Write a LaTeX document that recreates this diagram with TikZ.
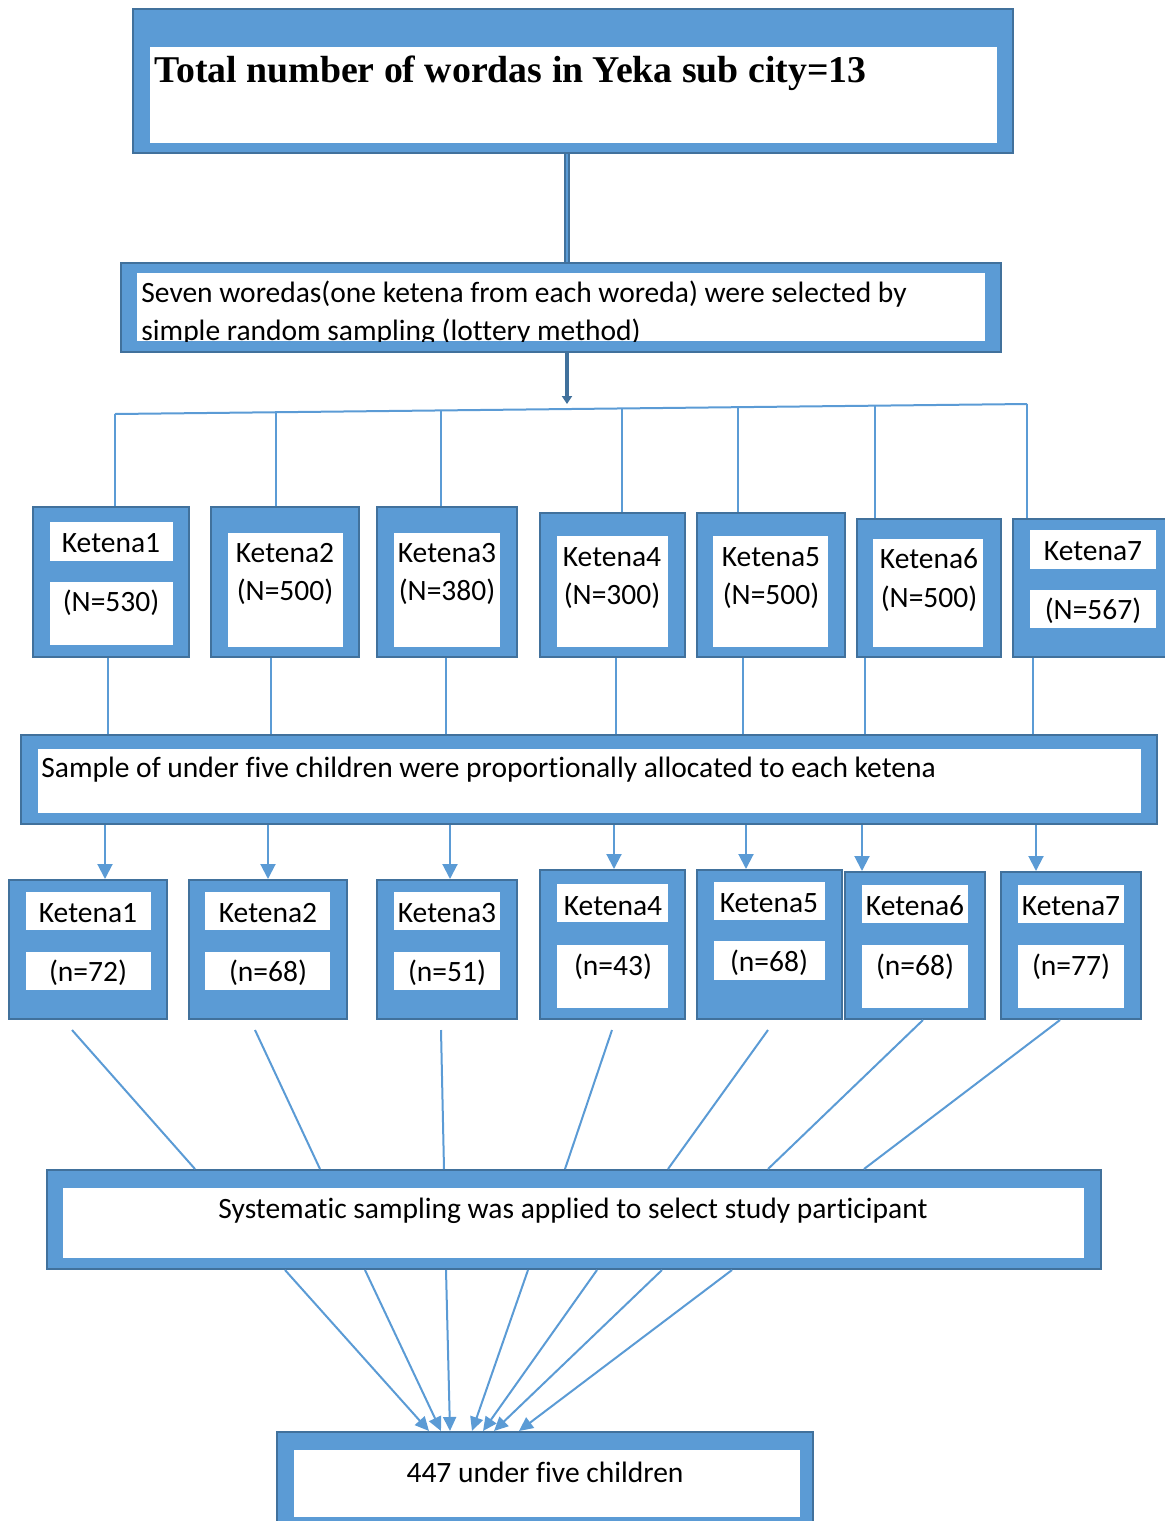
\documentclass[tikz,border=0pt]{standalone}
\usepackage{fontspec}
\setmainfont[Ligatures=NoCommon]{Carlito}
\newfontfamily\titlefont{Liberation Serif}
\usetikzlibrary{positioning}
\usetikzlibrary{fit}
\usetikzlibrary{arrows.meta}
\definecolor{boxblue}{HTML}{5B9BD5}
\definecolor{boxedge}{HTML}{41719C}

\begin{document}
\begin{tikzpicture}[x=0.5pt, y=-0.5pt,
    frame/.style={draw=boxedge, fill=boxblue, line width=1pt, inner sep=0pt},
    paper/.style={fill=white, inner sep=0pt},
    lbl/.style={inner sep=0pt, yshift=-1pt, font=\fontsize{14.75}{19}\selectfont},
    link/.style={draw=boxblue, line width=1pt},
    arr/.style={link, -{Triangle[width=7.5pt, length=7.5pt]}},
    tip/.style={link, -{Triangle[width=6.5pt, length=7pt]}},
    trunk/.style={draw=boxedge, double=boxblue, line width=0.8pt, double distance=1pt}]
    \useasboundingbox (0,0) rectangle (1165,1521);

    % top box
    \node[frame, fit={(133,9) (1013,153)}] (tot) {};
    \node[paper, fit={(150,47) (997,143)}] (totw) {};
    \node[lbl, anchor=west, font=\titlefont\bfseries\fontsize{18.9}{22}\selectfont] (tott) at (154,71) {Total number of wordas in Yeka sub city=13};

    % selection box
    \node[frame, fit={(121,263) (1001,352)}] (sel) {};
    \node[paper, fit={(137,273) (985,341)}] (selw) {};
    \begin{scope}
        \clip (137,273) rectangle (985,341);
        \node[lbl, anchor=west, align=left] (selt) at (141,311) {Seven woredas(one ketena from each woreda) were selected by\\simple random sampling (lottery method)};
    \end{scope}
    \draw[trunk] ([xshift=-3pt]tot.south) -- ([xshift=-3pt]tot.south |- sel.north);

    % bus line to the ketenas
    \coordinate (hub) at (567,404);
    \coordinate (b1) at (115,414);
    \coordinate (b2) at (276,412.2);
    \coordinate (b3) at (441,410.4);
    \coordinate (b4) at (622,408.4);
    \coordinate (b5) at (738,407.2);
    \coordinate (b6) at (875,405.7);
    \coordinate (b7) at (1027,404);
    \draw[boxedge, line width=1.6pt, -{Triangle[width=5pt, length=4pt]}] ([xshift=3pt]sel.south) -- (hub);
    \draw[link] (b1) -- (b7);

    % first row of ketenas
    \node[frame, fit={(33,507) (189,657)}] (k1) {};
    \node[paper, fit={(50,522) (173,561)}] (k1a) {};
    \node[paper, fit={(50,582) (173,645)}] (k1b) {};
    \node[lbl] (k1n) at (111,541) {Ketena1};
    \node[lbl] (k1c) at (111,601) {(N=530)};

    \node[frame, fit={(211,507) (359,657)}] (k2) {};
    \node[paper, fit={(228,533) (343,647)}] (k2a) {};
    \node[lbl] (k2n) at (285,551) {Ketena2};
    \node[lbl] (k2c) at (285,590) {(N=500)};

    \node[frame, fit={(377,507) (517,657)}] (k3) {};
    \node[paper, fit={(394,533) (500,647)}] (k3a) {};
    \node[lbl] (k3n) at (447,551) {Ketena3};
    \node[lbl] (k3c) at (447,590) {(N=380)};

    \node[frame, fit={(540,513) (685,657)}] (k4) {};
    \node[paper, fit={(557,536) (668,647)}] (k4a) {};
    \node[lbl] (k4n) at (612,555) {Ketena4};
    \node[lbl] (k4c) at (612,594) {(N=300)};

    \node[frame, fit={(697,513) (845,657)}] (k5) {};
    \node[paper, fit={(713,536) (828,647)}] (k5a) {};
    \node[lbl] (k5n) at (771,555) {Ketena5};
    \node[lbl] (k5c) at (771,594) {(N=500)};

    \node[frame, fit={(857,519) (1001,657)}] (k6) {};
    \node[paper, fit={(873,539) (983,647)}] (k6a) {};
    \node[lbl] (k6n) at (929,557) {Ketena6};
    \node[lbl] (k6c) at (929,597) {(N=500)};

    \node[frame, fit={(1013,519) (1175,657)}] (k7) {};
    \node[paper, fit={(1030,530) (1156,569)}] (k7a) {};
    \node[paper, fit={(1030,590) (1156,628)}] (k7b) {};
    \node[lbl] (k7n) at (1093,549) {Ketena7};
    \node[lbl] (k7c) at (1093,609) {(N=567)};

    \draw[link] (b1) -- (b1 |- k1.north);
    \draw[link] (b2) -- (b2 |- k2.north);
    \draw[link] (b3) -- (b3 |- k3.north);
    \draw[link] (b4) -- (b4 |- k4.north);
    \draw[link] (b5) -- (b5 |- k5.north);
    \draw[link] (b6) -- (b6 |- k6.north);
    \draw[link] (b7) -- (b7 |- k7.north);

    % allocation box
    \node[frame, fit={(21,735) (1157,824)}] (smp) {};
    \node[paper, fit={(38,749) (1141,813)}] (smpw) {};
    \node[lbl, anchor=west] (smpt) at (41,768) {Sample of under five children were proportionally allocated to each ketena};

    \draw[link] ([xshift=-1.5pt]k1.south) -- ([xshift=-1.5pt]k1.south |- smp.north);
    \draw[link] ([xshift=-7pt]k2.south) -- ([xshift=-7pt]k2.south |- smp.north);
    \draw[link] ([xshift=-0.5pt]k3.south) -- ([xshift=-0.5pt]k3.south |- smp.north);
    \draw[link] ([xshift=1.5pt]k4.south) -- ([xshift=1.5pt]k4.south |- smp.north);
    \draw[link] ([xshift=-14pt]k5.south) -- ([xshift=-14pt]k5.south |- smp.north);
    \draw[link] ([xshift=-32pt]k6.south) -- ([xshift=-32pt]k6.south |- smp.north);
    \draw[link] ([xshift=-30.5pt]k7.south) -- ([xshift=-30.5pt]k7.south |- smp.north);

    % second row of ketenas
    \node[frame, fit={(9,880) (167,1019)}] (m1) {};
    \node[paper, fit={(26,892) (151,930)}] (m1a) {};
    \node[paper, fit={(26,952) (151,990)}] (m1b) {};
    \node[lbl] (m1n) at (88,911) {Ketena1};
    \node[lbl] (m1c) at (88,971) {(n=72)};

    \node[frame, fit={(189,880) (347,1019)}] (m2) {};
    \node[paper, fit={(205,892) (330,930)}] (m2a) {};
    \node[paper, fit={(205,952) (330,990)}] (m2b) {};
    \node[lbl] (m2n) at (268,911) {Ketena2};
    \node[lbl] (m2c) at (268,971) {(n=68)};

    \node[frame, fit={(377,880) (517,1019)}] (m3) {};
    \node[paper, fit={(394,892) (500,930)}] (m3a) {};
    \node[paper, fit={(394,952) (500,990)}] (m3b) {};
    \node[lbl] (m3n) at (447,911) {Ketena3};
    \node[lbl] (m3c) at (447,971) {(n=51)};

    \node[frame, fit={(540,870) (685,1019)}] (m4) {};
    \node[paper, fit={(557,884) (668,922)}] (m4a) {};
    \node[paper, fit={(557,945) (668,1008)}] (m4b) {};
    \node[lbl] (m4n) at (613,904) {Ketena4};
    \node[lbl] (m4c) at (613,965) {(n=43)};

    \node[frame, fit={(697,870) (842,1019)}] (m5) {};
    \node[paper, fit={(714,882) (825,920)}] (m5a) {};
    \node[paper, fit={(714,941) (825,980)}] (m5b) {};
    \node[lbl] (m5n) at (769,901) {Ketena5};
    \node[lbl] (m5c) at (769,961) {(n=68)};

    \node[frame, fit={(845,872) (985,1019)}] (m6) {};
    \node[paper, fit={(862,885) (968,923)}] (m6a) {};
    \node[paper, fit={(862,945) (968,1008)}] (m6b) {};
    \node[lbl] (m6n) at (915,904) {Ketena6};
    \node[lbl] (m6c) at (915,965) {(n=68)};

    \node[frame, fit={(1001,872) (1141,1019)}] (m7) {};
    \node[paper, fit={(1018,885) (1124,923)}] (m7a) {};
    \node[paper, fit={(1018,945) (1124,1008)}] (m7b) {};
    \node[lbl] (m7n) at (1071,904) {Ketena7};
    \node[lbl] (m7c) at (1071,965) {(n=77)};

    \draw[arr] ([xshift=8.5pt]m1.north |- smp.south) -- ([xshift=8.5pt]m1.north);
    \draw[arr] (m2.north |- smp.south) -- (m2.north);
    \draw[arr] ([xshift=1.5pt]m3.north |- smp.south) -- ([xshift=1.5pt]m3.north);
    \draw[arr] ([xshift=0.75pt]m4.north |- smp.south) -- ([xshift=0.75pt]m4.north);
    \draw[arr] ([xshift=-11.75pt]m5.north |- smp.south) -- ([xshift=-11.75pt]m5.north);
    \draw[arr] ([xshift=-26.5pt]m6.north |- smp.south) -- ([xshift=-26.5pt]m6.north);
    \draw[arr] ([xshift=-17.5pt]m7.north |- smp.south) -- ([xshift=-17.5pt]m7.north);

    % systematic sampling box
    \node[frame, fit={(47,1170) (1101,1269)}] (sys) {};
    \node[paper, fit={(63,1188) (1084,1258)}] (sysw) {};
    \node[lbl] (syst) at (573,1209) {Systematic sampling was applied to select study participant};

    \coordinate (s1) at (72,1030);
    \coordinate (s2) at (255,1030);
    \coordinate (s3) at (441,1030);
    \coordinate (s4) at (612,1030);
    \coordinate (s5) at (768,1030);
    \draw[link] (s1) -- ([xshift=-189.5pt]sys.north);
    \draw[link] (s2) -- ([xshift=-127pt]sys.north);
    \draw[link] (s3) -- ([xshift=-65pt]sys.north);
    \draw[link] (s4) -- ([xshift=-4.5pt]sys.north);
    \draw[link] (s5) -- ([xshift=47pt]sys.north);
    \draw[link] ([xshift=4pt]m6.south) -- ([xshift=97pt]sys.north);
    \draw[link] ([xshift=-5.5pt]m7.south) -- ([xshift=145pt]sys.north);

    % final box
    \node[frame, fit={(277,1432) (813,1535)}] (fin) {};
    \node[paper, fit={(294,1450) (800,1517)}] (finw) {};
    \node[lbl] (fint) at (545,1470) {447 under five children};

    \draw[tip] ([xshift=-144.5pt]sys.south) -- ([xshift=-58pt]fin.north);
    \draw[tip] ([xshift=-104.5pt]sys.south) -- ([xshift=-52pt]fin.north);
    \draw[tip] ([xshift=-64pt]sys.south) -- ([xshift=-47.5pt]fin.north);
    \draw[tip] ([xshift=-23pt]sys.south) -- ([xshift=-36.5pt]fin.north);
    \draw[tip] ([xshift=11.5pt]sys.south) -- ([xshift=-31pt]fin.north);
    \draw[tip] ([xshift=44pt]sys.south) -- ([xshift=-25.5pt]fin.north);
    \draw[tip] ([xshift=79pt]sys.south) -- ([xshift=-13pt]fin.north);
\end{tikzpicture}
\end{document}
